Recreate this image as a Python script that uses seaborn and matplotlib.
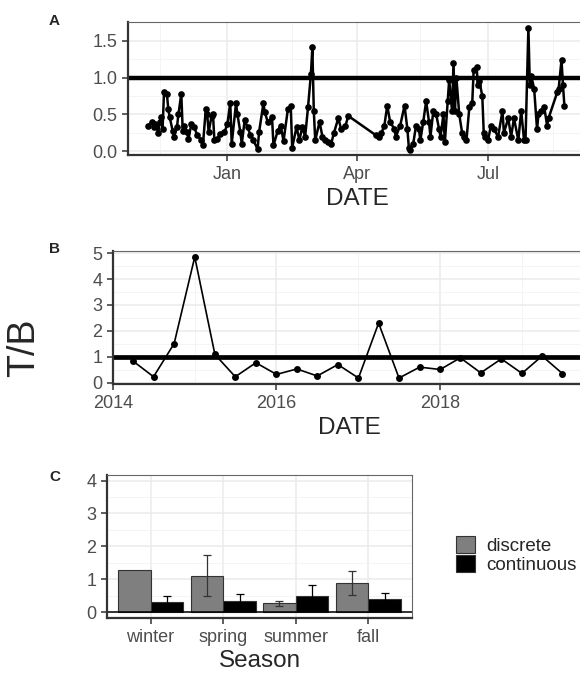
import numpy as np
import pandas as pd
import matplotlib
matplotlib.use("Agg")
import matplotlib.pyplot as plt
import matplotlib.dates as mdates
from matplotlib.ticker import MultipleLocator, FixedLocator
import seaborn as sns

# ---- panel A: daily T/B ratio (days counted from 1 Nov 2018)
days_a = [6, 9, 10, 11, 13, 14, 15, 16, 17, 19, 20, 21, 23, 24, 26, 27, 29, 30, 31, 33,
          34, 36, 38, 40, 43, 44, 46, 47, 48, 50, 51, 52, 54, 56, 59, 61, 63, 64, 67, 68,
          70, 71, 73, 75, 77, 79, 82, 83, 86, 87, 89, 92, 93, 96, 98, 100, 103, 105, 106, 109,
          111, 113, 115, 117, 119, 120, 121, 122, 125, 127, 129, 131, 133, 135, 138, 140, 143, 145,
          164, 166, 168, 170, 172, 174, 177, 178, 181, 184, 186, 187, 188, 190, 192, 194, 195,
          197, 199, 201, 202, 204, 206, 208, 209, 211, 212, 214, 215, 217, 218, 219, 220, 222,
          224, 225, 227, 229, 231, 232, 234, 235, 236, 238, 239, 240, 242, 244, 246, 249, 252,
          253, 256, 258, 260, 263, 265, 267, 268, 270, 271, 272, 274, 276, 277, 279, 281, 283,
          284, 290, 291, 293, 294, 295]
tb_a = [0.35, 0.40, 0.33, 0.37, 0.25, 0.40, 0.46, 0.30, 0.80, 0.78, 0.57, 0.46, 0.28, 0.20,
        0.33, 0.50, 0.78, 0.28, 0.35, 0.26, 0.17, 0.37, 0.33, 0.22, 0.15, 0.08, 0.57, 0.50,
        0.26, 0.48, 0.50, 0.15, 0.17, 0.24, 0.26, 0.37, 0.66, 0.10, 0.65, 0.50, 0.26, 0.10,
        0.42, 0.33, 0.22, 0.15, 0.03, 0.26, 0.65, 0.53, 0.40, 0.46, 0.08, 0.28, 0.35, 0.14,
        0.57, 0.61, 0.05, 0.33, 0.15, 0.33, 0.20, 0.60, 1.05, 1.41, 0.55, 0.15, 0.40, 0.20,
        0.15, 0.12, 0.10, 0.25, 0.45, 0.30, 0.35, 0.48, 0.22, 0.20, 0.25, 0.35, 0.62, 0.40,
        0.30, 0.20, 0.35, 0.62, 0.30, 0.05, 0.02, 0.10, 0.35, 0.30, 0.15, 0.40, 0.68, 0.40,
        0.20, 0.55, 0.50, 0.30, 0.20, 0.50, 0.12, 0.68, 0.97, 0.55, 1.20, 0.55, 1.00, 0.50,
        0.25, 0.20, 0.15, 0.60, 0.65, 1.10, 1.15, 0.90, 0.95, 0.75, 0.25, 0.20, 0.15, 0.35,
        0.30, 0.20, 0.55, 0.25, 0.45, 0.20, 0.45, 0.15, 0.55, 0.15, 0.15, 1.68, 0.90, 1.02,
        0.85, 0.30, 0.50, 0.55, 0.60, 0.35, 0.45, 0.80, 0.85, 1.24, 0.90, 0.62]

# ---- panel B: quarterly T/B ratio
start_b = "2014-04-01"
tb_b = [0.83, 0.23, 1.51, 4.85, 1.09, 0.23, 0.77, 0.32, 0.53, 0.26, 0.70,
        0.18, 2.30, 0.18, 0.60, 0.51, 0.96, 0.38, 0.92, 0.36, 1.03, 0.35]

# ---- panel C: seasonal means with error bars
seasons = ["winter", "spring", "summer", "fall"]
methods = ["discrete", "continuous"]
disc_mean = [1.27, 1.11, 0.28, 0.88]
disc_lo = [np.nan, 0.50, 0.20, 0.51]
disc_hi = [np.nan, 1.73, 0.34, 1.25]
cont_mean = [0.31, 0.34, 0.49, 0.41]
cont_lo = [0.14, 0.12, 0.17, 0.25]
cont_hi = [0.48, 0.56, 0.81, 0.57]

sns.set_style("white")
plt.rcParams["font.family"] = ["Liberation Sans", "DejaVu Sans"]

fig = plt.figure(figsize=(5.8, 6.75), dpi=100)
W, H = 580, 675


def px_axes(l, t, r, b):
    return fig.add_axes([l / W, 1 - b / H, (r - l) / W, (b - t) / H])


def style(ax):
    ax.set_axisbelow(True)
    ax.grid(which="major", color="#EBEBEB", lw=1.1)
    ax.grid(which="minor", color="#F2F2F2", lw=0.6)
    for s in ["left", "bottom"]:
        ax.spines[s].set_color("#333333")
        ax.spines[s].set_linewidth(1.6)
    for s in ["top", "right"]:
        ax.spines[s].set_color("#666666")
        ax.spines[s].set_linewidth(0.8)
    ax.tick_params(which="major", labelsize=13, labelcolor="#4D4D4D", color="#333333",
                   length=4.3, width=1.1, pad=3.4, left=True, bottom=True)
    ax.tick_params(which="minor", length=0)


# A
df_a = pd.DataFrame({"date": pd.Timestamp("2018-11-01") + pd.to_timedelta(days_a, unit="D"),
                     "tb": tb_a})
axA = px_axes(128, 22, 586, 155)
sns.lineplot(data=df_a, x="date", y="tb", ax=axA, color="black", lw=1.8, marker="o",
             markersize=4.8, markeredgewidth=0, estimator=None)
axA.axhline(1, color="black", lw=3.2)
axA.set_xlim(pd.Timestamp("2018-10-24"), pd.Timestamp("2019-09-07"))
axA.set_ylim(-0.05, 1.756)
axA.xaxis.set_major_locator(mdates.MonthLocator(bymonth=[1, 4, 7]))
axA.xaxis.set_minor_locator(mdates.MonthLocator(bymonth=[2, 5, 8, 11], bymonthday=15))
axA.xaxis.set_major_formatter(mdates.DateFormatter("%b"))
axA.yaxis.set_major_locator(MultipleLocator(0.5))
axA.yaxis.set_minor_locator(MultipleLocator(0.25))
axA.yaxis.set_major_formatter(matplotlib.ticker.FormatStrFormatter("%.1f"))
style(axA)
axA.set_xlabel("DATE", fontsize=17.5, labelpad=4)
axA.set_ylabel("")

# B
df_b = pd.DataFrame({"date": pd.date_range(start_b, periods=len(tb_b), freq="QS"), "tb": tb_b})
axB = px_axes(113, 251, 586, 384)
sns.lineplot(data=df_b, x="date", y="tb", ax=axB, color="black", lw=1.2, marker="o",
             markersize=5, markeredgewidth=0, estimator=None)
axB.axhline(1, color="black", lw=3.4)
axB.set_xlim(pd.Timestamp("2014-01-01"), pd.Timestamp("2019-10-14"))
axB.set_ylim(-0.05, 5.08)
axB.xaxis.set_major_locator(mdates.YearLocator(2))
axB.xaxis.set_minor_locator(FixedLocator(mdates.date2num(
    [pd.Timestamp("2015-01-01"), pd.Timestamp("2017-01-01"), pd.Timestamp("2019-01-01")])))
axB.xaxis.set_major_formatter(mdates.DateFormatter("%Y"))
axB.yaxis.set_major_locator(MultipleLocator(1))
axB.yaxis.set_minor_locator(MultipleLocator(0.5))
style(axB)
axB.set_xlabel("DATE", fontsize=17.5, labelpad=4)
axB.set_ylabel("")

# C
df_c = pd.DataFrame({
    "Season": seasons * 2,
    "method": ["discrete"] * 4 + ["continuous"] * 4,
    "tb": disc_mean + cont_mean,
})
axC = px_axes(107, 475, 412, 618)
sns.barplot(data=df_c, x="Season", y="tb", hue="method", order=seasons, hue_order=methods,
            palette={"discrete": "#7F7F7F", "continuous": "black"}, errorbar=None,
            width=0.9, edgecolor="#333333", linewidth=0.8, saturation=1, ax=axC)
lows = [disc_lo, cont_lo]
highs = [disc_hi, cont_hi]
ecolors = ["#333333", "black"]
for cont, lo, hi, ec in zip(axC.containers, lows, highs, ecolors):
    for bar, l, h in zip(cont, lo, hi):
        if np.isnan(l):
            continue
        xc = bar.get_x() + bar.get_width() / 2
        axC.errorbar(xc, (l + h) / 2, yerr=(h - l) / 2, fmt="none", ecolor=ec,
                     elinewidth=0.9, capsize=2.6, capthick=0.9, zorder=3)
axC.axhline(0, color="black", lw=1.1)
axC.set_xlim(-0.6, 3.6)
axC.set_ylim(-0.18, 4.17)
axC.yaxis.set_major_locator(MultipleLocator(1))
axC.yaxis.set_minor_locator(MultipleLocator(0.5))
style(axC)
axC.xaxis.grid(True, which="major", color="#EBEBEB", lw=1.1)
axC.set_xlabel("Season", fontsize=17.5, labelpad=3)
axC.set_ylabel("")
axC.legend(title=None, frameon=False, loc="center left", bbox_to_anchor=(448 / W, 1 - 555 / H),
           bbox_transform=fig.transFigure, fontsize=13.5, handlelength=1.05, handleheight=1.05,
           labelspacing=0.0, handletextpad=0.6, borderaxespad=0)

# shared y label and panel tags
fig.text(24 / W, 1 - 348 / H, "T/B", rotation=90, fontsize=27, ha="center", va="center")
fig.text(54 / W, 1 - 21 / H, "A", fontsize=11, fontweight="bold", ha="center", va="center")
fig.text(55 / W, 1 - 249 / H, "B", fontsize=11, fontweight="bold", ha="center", va="center")
fig.text(55 / W, 1 - 477 / H, "C", fontsize=11, fontweight="bold", ha="center", va="center")

fig.savefig("out.png", dpi=100)
